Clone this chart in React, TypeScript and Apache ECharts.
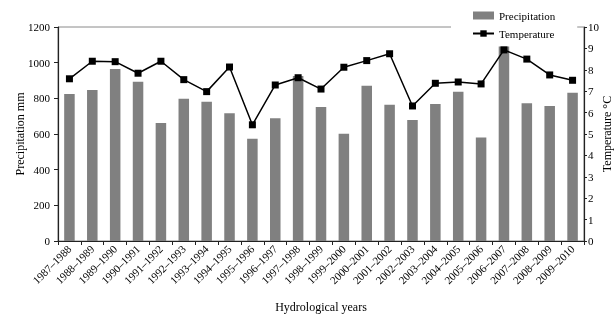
import React, { useEffect, useRef } from "react";
import * as echarts from "echarts";

const categories = [
  "1987–1988", "1988–1989", "1989–1990", "1990–1991", "1991–1992", "1992–1993",
  "1993–1994", "1994–1995", "1995–1996", "1996–1997", "1997–1998", "1998–1999",
  "1999–2000", "2000–2001", "2001–2002", "2002–2003", "2003–2004", "2004–2005",
  "2005–2006", "2006–2007", "2007–2008", "2008–2009", "2009–2010",
];
const precipitation = [
  824, 847, 965, 893, 662, 798, 781, 716, 574, 688, 925, 751,
  602, 871, 764, 679, 768, 837, 581, 1090, 772, 757, 832,
];
const temperature = [
  7.58, 8.4, 8.38, 7.84, 8.4, 7.54, 6.98, 8.13, 5.43, 7.29, 7.63, 7.1,
  8.12, 8.43, 8.75, 6.31, 7.37, 7.43, 7.34, 8.93, 8.5, 7.76, 7.51,
];

const FONT = '"Liberation Serif", "Times New Roman", serif';

export default function App() {
  const ref = useRef<HTMLDivElement>(null);
  useEffect(() => {
    if (!ref.current) return;
    const chart = echarts.init(ref.current, undefined, { renderer: "svg" });
    chart.setOption({
      animation: false,
      textStyle: { fontFamily: FONT, color: "#000" },
      grid: {
        left: 58,
        right: 32,
        top: 27,
        bottom: 75,
        show: true,
        borderColor: "#8a8a8a",
        borderWidth: 1,
        containLabel: false,
        outerBoundsMode: "none",
      },
      legend: {
        orient: "vertical",
        left: 451,
        top: 6,
        padding: [4, 22, 4, 21],
        itemGap: 7,
        itemWidth: 21,
        itemHeight: 8,
        backgroundColor: "#fff",
        textStyle: { fontFamily: FONT, fontSize: 11, color: "#000" },
        data: [
          { name: "Precipitation", icon: "rect" },
          { name: "Temperature" },
        ],
      },
      xAxis: {
        type: "category",
        data: categories,
        boundaryGap: true,
        name: "Hydrological years",
        nameLocation: "middle",
        nameGap: 60,
        nameMoveOverlap: false,
        nameTextStyle: { fontFamily: FONT, fontSize: 12, color: "#000" },
        axisLine: { lineStyle: { color: "#222", width: 1.2 } },
        axisTick: { show: true, alignWithLabel: false, length: 4, lineStyle: { color: "#222" } },
        axisLabel: {
          interval: 0,
          rotate: 45,
          margin: 6,
          fontFamily: FONT,
          fontSize: 11,
          color: "#000",
        },
      },
      yAxis: [
        {
          type: "value",
          min: 0,
          max: 1200,
          interval: 200,
          name: "Precipitation mm",
          nameLocation: "middle",
          nameRotate: 90,
          nameGap: 32,
          nameMoveOverlap: false,
          nameTextStyle: { fontFamily: FONT, fontSize: 12, color: "#000" },
          axisLine: { show: true, lineStyle: { color: "#222", width: 1.2 } },
          axisTick: { show: true, length: 4, lineStyle: { color: "#222" } },
          axisLabel: {
            margin: 8,
            fontFamily: FONT,
            fontSize: 11,
            color: "#000",
            formatter: (v: number) => String(v),
          },
          splitLine: { show: false },
        },
        {
          type: "value",
          min: 0,
          max: 10,
          interval: 1,
          position: "right",
          name: "Temperature °C",
          nameLocation: "middle",
          nameRotate: 90,
          nameGap: 17,
          nameMoveOverlap: false,
          nameTextStyle: { fontFamily: FONT, fontSize: 12, color: "#000" },
          axisLine: { show: true, lineStyle: { color: "#222", width: 1.2 } },
          axisTick: { show: true, length: 3, lineStyle: { color: "#222" } },
          axisLabel: { margin: 4, fontFamily: FONT, fontSize: 11, color: "#000" },
          splitLine: { show: false },
        },
      ],
      series: [
        {
          name: "Precipitation",
          type: "bar",
          data: precipitation,
          barWidth: "46%",
          itemStyle: { color: "#808080" },
          yAxisIndex: 0,
        },
        {
          name: "Temperature",
          type: "line",
          data: temperature,
          yAxisIndex: 1,
          symbol: "rect",
          symbolSize: 7,
          lineStyle: { color: "#000", width: 1.5 },
          itemStyle: { color: "#000" },
          z: 3,
        },
      ],
    });
    return () => chart.dispose();
  }, []);
  return (
    <div
      ref={ref}
      style={{ position: "fixed", left: 0, top: 0, width: 616, height: 316 }}
    />
  );
}
